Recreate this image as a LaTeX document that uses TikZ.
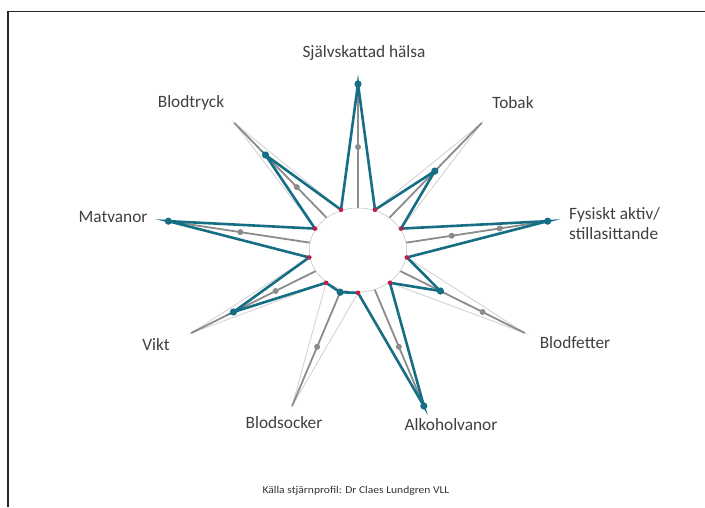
\documentclass[tikz,border=0pt]{standalone}
\usepackage{fontspec}
\setmainfont{Carlito}
\definecolor{tealc}{RGB}{22,110,132}
\definecolor{redc}{RGB}{196,28,72}
\definecolor{axisgray}{RGB}{140,140,140}
\definecolor{lightg}{RGB}{212,212,212}
\definecolor{labelc}{RGB}{64,64,64}
\begin{document}
\begin{tikzpicture}[x=1pt,y=1pt,
  lbl/.style={font=\fontsize{17.3}{20}\selectfont, text=labelc, inner sep=0pt},
  src/.style={font=\fontsize{10.5}{12}\selectfont, text=black!80, inner sep=0pt},
  maxstar/.style={draw=lightg, line width=0.9pt, line join=miter},
  axisline/.style={draw=axisgray, line width=1.8pt},
  tealstar/.style={draw=tealc, line width=2.6pt, line join=miter},
  tdot/.style={fill=tealc},
  gdot/.style={fill=axisgray},
  rdot/.style={fill=redc},
  frame/.style={draw=black!85, line width=1.5pt}]
\useasboundingbox (0,0) rectangle (705,507);
\fill[white] (0,0) rectangle (705,507);
\coordinate (F1) at (8,0);
\coordinate (F2) at (8,495.5);
\coordinate (F3) at (705,495.5);
\draw[frame] (F1) -- (F2) -- (F3);

\begin{scope}[shift={(358,257)}, x=1.16pt, y=1pt]
  \coordinate (O) at (0,0);
  \foreach \i/\a/\t in {1/90/166,2/50/103,3/10/166,4/-30/82,5/-70/166,6/-110/45,7/-150/124,8/-190/166,9/-230/124}{
    \pgfmathsetmacro{\m}{\a-20}
    \coordinate (A\i) at (\a:166);
    \coordinate (B\i) at (\a:42);
    \coordinate (T\i) at (\a:\t);
    \coordinate (M\i) at (\m:42.8);
  }
  \foreach \i/\a/\r in {1/90/103,2/50/103,3/10/82,3/10/124,4/-30/124,5/-70/103,6/-110/103,7/-150/82,8/-190/103,9/-230/82}{
    \coordinate (G\i-\r) at (\a:\r);
  }
  % maximum star
  \draw[maxstar] (M9) -- (A1) -- (M1) -- (A2) -- (M2) -- (A3) -- (M3) -- (A4) -- (M4) -- (A5) -- (M5) -- (A6) -- (M6) -- (A7) -- (M7) -- (A8) -- (M8) -- (A9) -- cycle;
  % axes
  \foreach \i in {1,...,9}{ \draw[axisline] (B\i) -- (A\i); }
  % gray dots
  \foreach \n in {G1-103,G2-103,G3-82,G3-124,G4-124,G5-103,G6-103,G7-82,G8-103,G9-82}{
    \fill[gdot] (\n) circle[radius=3pt];
  }
  % centre circle
  \fill[white] (O) ellipse[x radius=48.7pt, y radius=42pt];
  \draw[black!25, line width=0.5pt] (O) ellipse[x radius=48.7pt, y radius=42pt];
  % value star
  \draw[tealstar] (M9) -- (T1) -- (M1) -- (T2) -- (M2) -- (T3) -- (M3) -- (T4) -- (M4) -- (T5) -- (M5) -- (T6) -- (M6) -- (T7) -- (M7) -- (T8) -- (M8) -- (T9) -- cycle;
  \foreach \i in {1,...,9}{
    \fill[tdot] (T\i) circle[radius=3.6pt];
    \fill[rdot] (M\i) circle[radius=2.3pt];
  }
\end{scope}

\node[lbl] (l1) at (364,454) {Självskattad hälsa};
\node[lbl] (l2) at (513,404) {Tobak};
\node[lbl, anchor=west, align=left] (l3) at (569,283.5) {Fysiskt aktiv/\\stillasittande};
\node[lbl] (l4) at (575,164) {Blodfetter};
\node[lbl] (l5) at (451,82) {Alkoholvanor};
\node[lbl] (l6) at (284,84) {Blodsocker};
\node[lbl] (l7) at (156,162) {Vikt};
\node[lbl] (l8) at (113,290) {Matvanor};
\node[lbl] (l9) at (191,404) {Blodtryck};
\node[src] (s) at (356,16) {\scalebox{1.1}[1]{Källa stjärnprofil: Dr Claes Lundgren VLL}};
\end{tikzpicture}
\end{document}
